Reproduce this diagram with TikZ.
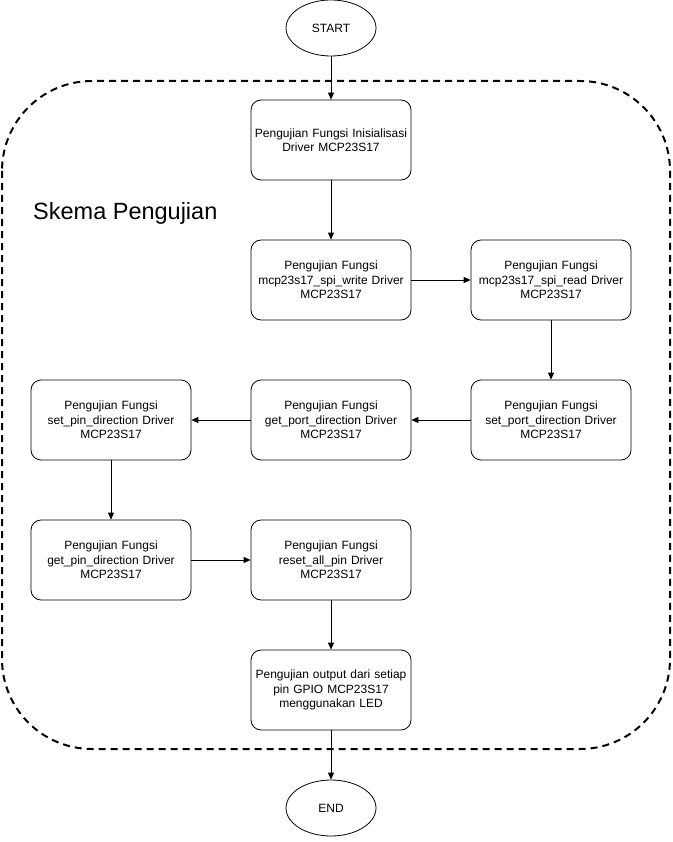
\documentclass[tikz,border=0pt]{standalone}
\usepackage{fontspec}
\setmainfont{Liberation Sans}
\usetikzlibrary{shapes.geometric,arrows.meta}
\begin{document}
\begin{tikzpicture}[x=1pt,y=-1pt,
  box/.style={draw, rounded corners=10pt, minimum width=160pt, minimum height=80pt, align=center, font=\fontsize{12}{14.5}\selectfont, text width=156pt, inner sep=0pt, line width=0.8pt},
  term/.style={draw, ellipse, minimum width=90pt, minimum height=56pt, inner sep=0pt, font=\fontsize{12}{14.5}\selectfont, line width=0.8pt},
  conn/.style={-{Triangle[length=7pt,width=6pt]}, line width=0.8pt}]
\useasboundingbox (0,0) rectangle (672,842);
\draw[line width=2pt, dash pattern=on 7pt off 5pt, rounded corners=90pt] (2,81) rectangle (670,749);
\node[anchor=west, inner sep=0pt, font=\fontsize{23.5}{28}\selectfont] (title) at (33,213) {Skema Pengujian};
\node[term] (start) at (331,28) {START};
\node[box] (b1) at (331,140) {Pengujian Fungsi Inisialisasi\\Driver MCP23S17};
\node[box] (b2) at (331,280) {Pengujian Fungsi\\mcp23s17\_spi\_write Driver\\MCP23S17};
\node[box] (b3) at (551,280) {Pengujian Fungsi\\mcp23s17\_spi\_read Driver\\MCP23S17};
\node[box] (b4) at (551,420) {Pengujian Fungsi\\set\_port\_direction Driver\\MCP23S17};
\node[box] (b5) at (331,420) {Pengujian Fungsi\\get\_port\_direction Driver\\MCP23S17};
\node[box] (b6) at (111,420) {Pengujian Fungsi\\set\_pin\_direction Driver\\MCP23S17};
\node[box] (b7) at (111,560) {Pengujian Fungsi\\get\_pin\_direction Driver\\MCP23S17};
\node[box] (b8) at (331,560) {Pengujian Fungsi\\reset\_all\_pin Driver\\MCP23S17};
\node[box] (b9) at (331,690) {Pengujian output dari setiap\\pin GPIO MCP23S17\\menggunakan LED};
\node[term] (end) at (331,808) {END};
\draw[conn] (start) -- (b1);
\draw[conn] (b1) -- (b2);
\draw[conn] (b2) -- (b3);
\draw[conn] (b3) -- (b4);
\draw[conn] (b4) -- (b5);
\draw[conn] (b5) -- (b6);
\draw[conn] (b6) -- (b7);
\draw[conn] (b7) -- (b8);
\draw[conn] (b8) -- (b9);
\draw[conn] (b9) -- (end);
\end{tikzpicture}
\end{document}
